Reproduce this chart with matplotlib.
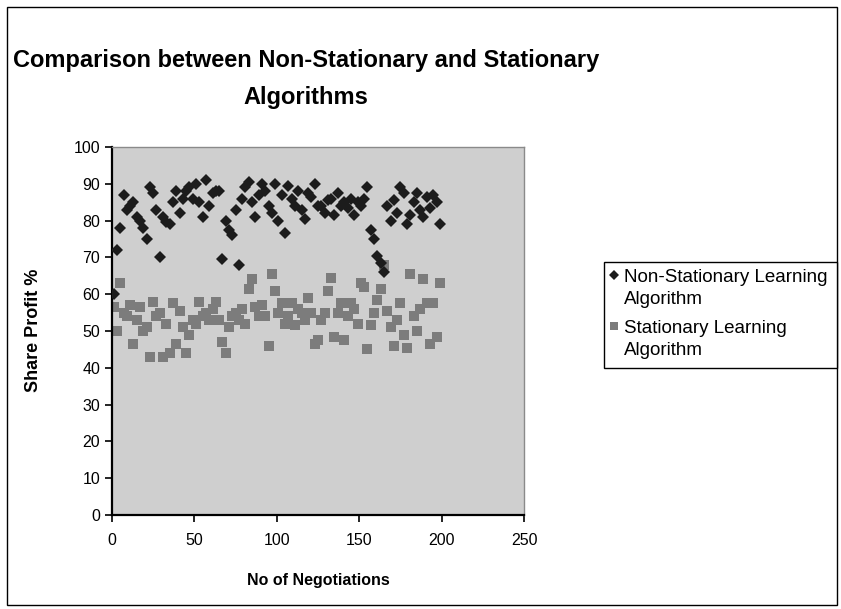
import matplotlib
matplotlib.use("Agg")
import matplotlib.pyplot as plt
from matplotlib.patches import Rectangle
from matplotlib.lines import Line2D

plt.rcParams['font.family'] = ['Liberation Sans', 'DejaVu Sans']

negotiations = list(range(1, 200, 2))

non_stationary = [
    60, 72, 78, 87, 83, 84, 85, 81, 80, 78,
    75, 89, 87.5, 83, 70, 81, 79.5, 79, 85, 88,
    82, 86, 88, 89, 86, 90, 85, 81, 91, 84,
    87.5, 88, 88, 69.5, 80, 77.5, 76, 83, 68, 86,
    89, 90.5, 85, 81, 87, 90, 88, 84, 82, 90,
    80, 87, 76.5, 89.5, 86, 84, 88, 83, 80.5, 87.5,
    86.5, 90, 84, 84, 82, 85.5, 86, 81.5, 87.5, 84,
    85, 83.5, 86, 81.5, 85, 84, 86, 89, 77.5, 75,
    70.5, 68.5, 66, 84, 80, 85.5, 82, 89, 87.5, 79,
    81.5, 85, 87.5, 83, 81, 86.5, 83.5, 87, 85, 79,
]

stationary = [
    56.5, 50, 63, 55, 54, 57, 46.5, 53, 56.5, 50,
    51, 43, 58, 54, 55, 43, 52, 44, 57.5, 46.5,
    55.5, 51, 44, 49, 53, 52, 58, 54, 55, 53,
    56, 58, 53, 47, 44, 51, 54, 55, 53, 56,
    52, 61.5, 64, 56.5, 54, 57, 54, 46, 65.5, 61,
    55, 57.5, 52, 54, 57.5, 51.5, 56, 55, 53, 59,
    55, 46.5, 47.5, 53, 55, 61, 64.5, 48.5, 55, 57.5,
    47.5, 54, 57.5, 56, 52, 63, 62, 45, 51.5, 55,
    58.5, 61.5, 68, 55.5, 51, 46, 53, 57.5, 49, 45.5,
    65.5, 54, 50, 56, 64, 57.5, 46.5, 57.5, 48.5, 63,
]

series_labels = ["Non-Stationary Learning\nAlgorithm", "Stationary Learning\nAlgorithm"]
x_ticks = [0, 50, 100, 150, 200, 250]
y_ticks = list(range(0, 101, 10))

W, H = 841, 609


def fx(px):
    return px / W


def fy(py):
    return 1 - py / H


fig = plt.figure(figsize=(8.41, 6.09), dpi=100)
fig.patch.set_facecolor('white')

# outer chart border
fig.add_artist(Rectangle((fx(7), fy(605)), 830 / W, 598 / H,
                         transform=fig.transFigure, fill=False,
                         edgecolor='black', linewidth=1.0))

ax = fig.add_axes([fx(112), fy(515), 412 / W, 368 / H])
ax.set_facecolor('#cfcfcf')

ax.plot(negotiations, non_stationary, linestyle='none', marker='D',
        markersize=6.6, color='#1c1c1c', markeredgewidth=0, zorder=3)
ax.plot(negotiations, stationary, linestyle='none', marker='s',
        markersize=6.8, color='#7c7c7c', markeredgewidth=0, zorder=2)

ax.set_xlim(0, 250)
ax.set_ylim(0, 100)
ax.set_xticks(x_ticks)
ax.set_yticks(y_ticks)
ax.tick_params(axis='both', direction='out', length=5, width=1.2, labelsize=11.5, colors='black')
ax.tick_params(axis='x', pad=8)
for s in ['top', 'right']:
    ax.spines[s].set_color('#8a8a8a')
    ax.spines[s].set_linewidth(1.0)
for s in ['left', 'bottom']:
    ax.spines[s].set_color('black')
    ax.spines[s].set_linewidth(1.6)

fig.text(fx(318), fy(581), "No of Negotiations", ha='center', va='center',
         fontsize=11.5, fontweight='bold')
fig.text(fx(33), fy(330), "Share Profit %", ha='center', va='center',
         rotation=90, fontsize=13, fontweight='bold')
fig.text(fx(306), fy(79), "Comparison between Non-Stationary and Stationary\nAlgorithms",
         ha='center', va='center', fontsize=17, fontweight='bold', linespacing=1.75)

# legend (markers aligned with first line of each entry, as in the original)
fig.add_artist(Rectangle((fx(604), fy(368)), 233 / W, 106 / H,
                         transform=fig.transFigure, facecolor='white',
                         edgecolor='black', linewidth=1.0, zorder=5))
legend_marker = ['D', 's']
legend_color = ['#1c1c1c', '#7c7c7c']
legend_msize = [5, 5.5]
legend_top = [275, 326]
for lab, mk, col, ms, ty in zip(series_labels, legend_marker, legend_color, legend_msize, legend_top):
    fig.add_artist(Line2D([fx(614)], [fy(ty)], transform=fig.transFigure, linestyle='none',
                          marker=mk, markersize=ms, color=col, markeredgewidth=0, zorder=6))
    fig.text(fx(624), fy(ty - 6), lab, ha='left', va='top', fontsize=13.5,
             linespacing=1.4, zorder=6)

fig.savefig("out.png", dpi=100, facecolor='white')
